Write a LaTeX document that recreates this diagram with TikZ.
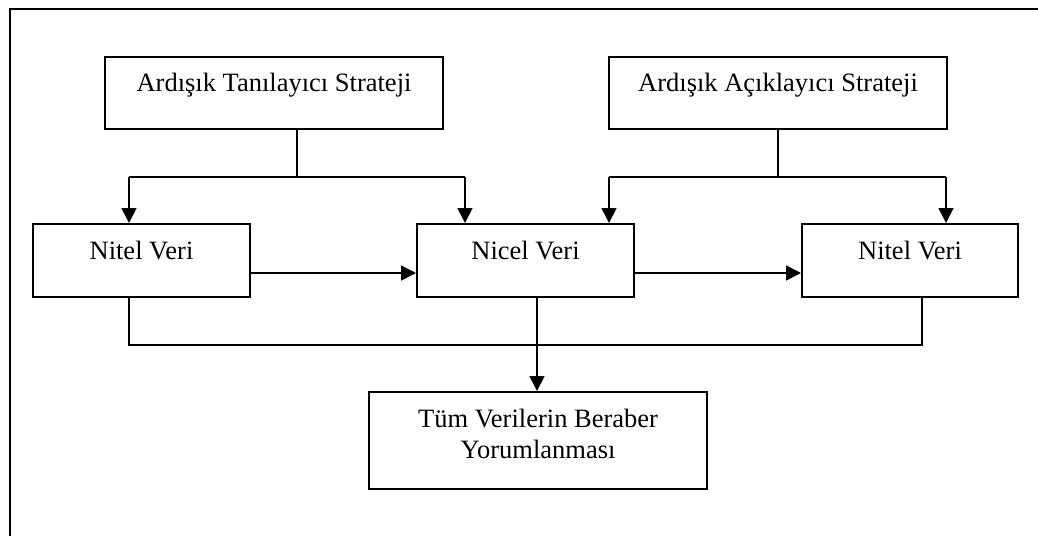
\documentclass[tikz,border=0pt]{standalone}
\usepackage{fontspec}
\setmainfont{Liberation Serif}
\usetikzlibrary{arrows.meta,calc}
\begin{document}
\begin{tikzpicture}[x=1pt,y=-1pt,
  box/.style={draw,line width=2pt,inner sep=0pt,minimum height=72pt},
  label/.style={anchor=base,inner sep=0pt,font=\fontsize{26.5}{31}\selectfont,align=center},
  link/.style={line width=1.6pt},
  arr/.style={link,-{Triangle[length=15pt,width=15pt]}},
  frame/.style={line width=2pt}]
\useasboundingbox (0,0) rectangle (1038,536);
% page frame (top and left edges)
\draw[frame] (9.5,536) -- (9.5,9) -- (1038,9);

% boxes
\node[box,minimum width=338pt] (TL) at (274,93) {};
\node[box,minimum width=338pt] (TR) at (778,93) {};
\node[box,minimum width=217pt,minimum height=73pt] (NL) at (141.5,260.5) {};
\node[box,minimum width=217pt,minimum height=73pt] (NC) at (525.5,260.5) {};
\node[box,minimum width=216pt,minimum height=73pt] (NR) at (910,260.5) {};
\node[box,minimum width=338pt,minimum height=97pt] (B) at (538,440.5) {};

% texts
\node[label] (tTL) at ($(TL.north)+(0,35)$) {Ardışık Tanılayıcı Strateji};
\node[label] (tTR) at ($(TR.north)+(0,35)$) {Ardışık Açıklayıcı Strateji};
\node[label] (tNL) at ($(NL.north)+(0,36)$) {Nitel Veri};
\node[label] (tNC) at ($(NC.north)+(0,36)$) {Nicel Veri};
\node[label] (tNR) at ($(NR.north)+(0,36)$) {Nitel Veri};
\node[label] (tB1) at ($(B.north)+(0,36)$) {Tüm Verilerin Beraber};
\node[label] (tB2) at ($(B.north)+(0,67)$) {Yorumlanması};

% junction points
\coordinate (lj) at (297,177);
\coordinate (lbL) at (129,177);
\coordinate (lbR) at (465,177);
\coordinate (rj) at (778,177);
\coordinate (rbL) at (609,177);
\coordinate (rbR) at (946,177);
\coordinate (bL) at (129,345);
\coordinate (bM) at (537,345);
\coordinate (bR) at (922,345);

% left strategy branches
\draw[link] (TL.south -| lj) -- (lj);
\draw[link] (lbL) -- (lbR);
\draw[arr] (lbL) -- (lbL |- NL.north);
\draw[arr] (lbR) -- (lbR |- NC.north);

% right strategy branches
\draw[link] (TR.south) -- (rj);
\draw[link] (rbL) -- (rbR);
\draw[arr] (rbL) -- (rbL |- NC.north);
\draw[arr] (rbR) -- (rbR |- NR.north);

% sequence arrows
\draw[arr] ($(NL.east)+(0,12.5)$) -- ($(NC.west)+(0,12.5)$);
\draw[arr] ($(NC.east)+(0,12.5)$) -- ($(NR.west)+(0,12.5)$);

% merging to the interpretation box
\draw[link] (bL |- NL.south) -- (bL) -- (bR) -- (bR |- NR.south);
\draw[arr] (bM |- NC.south) -- (bM |- B.north);
\end{tikzpicture}
\end{document}
